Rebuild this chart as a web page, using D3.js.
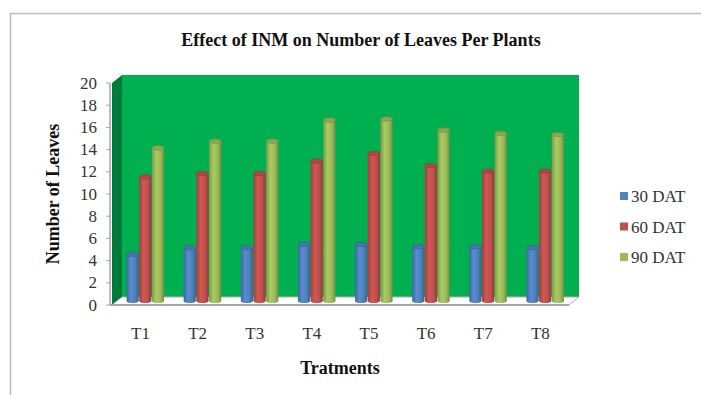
<!DOCTYPE html>
<html>
<head>
<meta charset="utf-8">
<script src="https://cdnjs.cloudflare.com/ajax/libs/d3/7.8.5/d3.min.js"></script>
<style>
  body { margin: 0; background: #fff; }
</style>
</head>
<body>
<div id="chart"></div>
<script>
// data
var treatments = ["T1", "T2", "T3", "T4", "T5", "T6", "T7", "T8"];
var seriesNames = ["30 DAT", "60 DAT", "90 DAT"];
var dat30 = [4.2, 4.8, 4.8, 5.1, 5.1, 4.9, 4.9, 4.8];
var dat60 = [11.2, 11.5, 11.5, 12.6, 13.3, 12.2, 11.7, 11.7];
var dat90 = [13.8, 14.4, 14.4, 16.3, 16.4, 15.4, 15.1, 15.0];
var yTicks = [0, 2, 4, 6, 8, 10, 12, 14, 16, 18, 20];
var colors = ["#4F81BD", "#C0504D", "#9BBB59"];

var series = [dat30, dat60, dat90];
var serif = "'Liberation Serif', 'Times New Roman', serif";

var svg = d3.select("#chart").append("svg")
    .attr("width", 701)
    .attr("height", 395)
    .attr("font-family", serif);

// chart frame (top + left border like the original)
svg.append("path")
    .attr("d", "M10.5,395 L10.5,13.5 L701,13.5")
    .attr("fill", "none")
    .attr("stroke", "#bdbdbd")
    .attr("stroke-width", 1.5);

var y = d3.scaleLinear().domain([0, 20]).range([305, 83]);
var x0 = d3.scaleBand().domain(treatments).range([112, 569]);
var x1 = d3.scaleBand().domain(seriesNames).range([0, 38]);
var depth = {x: 10, y: -8};

// gradients for cylinders
var defs = svg.append("defs");
colors.forEach(function(c, i) {
    var g = defs.append("linearGradient").attr("id", "cyl" + i)
        .attr("x1", "0%").attr("x2", "100%").attr("y1", "0%").attr("y2", "0%");
    var base = d3.color(c);
    g.append("stop").attr("offset", "0%").attr("stop-color", base.darker(0.6));
    g.append("stop").attr("offset", "35%").attr("stop-color", base.brighter(0.25));
    g.append("stop").attr("offset", "70%").attr("stop-color", base);
    g.append("stop").attr("offset", "100%").attr("stop-color", base.darker(0.8));
});

// back wall
svg.append("rect")
    .attr("x", 112 + depth.x)
    .attr("y", y(20) + depth.y)
    .attr("width", 569 - 112)
    .attr("height", y(0) - y(20))
    .attr("fill", "#00B050");

// left wall
svg.append("polygon")
    .attr("points", [
        [112, y(20)], [112 + depth.x, y(20) + depth.y],
        [112 + depth.x, y(0) + depth.y], [112, y(0)]
    ].map(function(p) { return p.join(","); }).join(" "))
    .attr("fill", "#007A3A");

// floor
svg.append("polygon")
    .attr("points", [
        [112, y(0)], [112 + depth.x, y(0) + depth.y],
        [569 + depth.x, y(0) + depth.y], [569, y(0)]
    ].map(function(p) { return p.join(","); }).join(" "))
    .attr("fill", "#ffffff")
    .attr("stroke", "#b0b0b0")
    .attr("stroke-width", 1);
svg.append("line")
    .attr("x1", 110).attr("x2", 569)
    .attr("y1", y(0)).attr("y2", y(0))
    .attr("stroke", "#a6a6a6").attr("stroke-width", 2);

// y axis line and ticks
svg.append("line")
    .attr("x1", 110).attr("x2", 110)
    .attr("y1", y(20)).attr("y2", y(0))
    .attr("stroke", "#a6a6a6").attr("stroke-width", 1.5);
svg.selectAll(".ytick").data(yTicks).enter().append("line")
    .attr("x1", 106).attr("x2", 110)
    .attr("y1", function(d) { return y(d); })
    .attr("y2", function(d) { return y(d); })
    .attr("stroke", "#a6a6a6");
svg.selectAll(".ylab").data(yTicks).enter().append("text")
    .attr("x", 97)
    .attr("y", function(d) { return y(d) + 5.5; })
    .attr("text-anchor", "end")
    .attr("font-size", 17)
    .attr("fill", "#333")
    .text(function(d) { return d; });

// bars (cylinders at half depth)
var half = {x: depth.x / 2, y: depth.y / 2};
var bw = x1.bandwidth() - 0.5;
treatments.forEach(function(t, ti) {
    var gx = x0(t) + (x0.bandwidth() - 38) / 2 + half.x;
    series.forEach(function(vals, si) {
        var bx = gx + x1(seriesNames[si]);
        var top = y(vals[ti]) + half.y;
        var bot = y(0) + half.y;
        svg.append("rect")
            .attr("x", bx).attr("y", top)
            .attr("width", bw).attr("height", bot - top)
            .attr("fill", "url(#cyl" + si + ")");
        svg.append("ellipse")
            .attr("cx", bx + bw / 2).attr("cy", bot)
            .attr("rx", bw / 2).attr("ry", 2)
            .attr("fill", "url(#cyl" + si + ")");
        svg.append("ellipse")
            .attr("cx", bx + bw / 2).attr("cy", top)
            .attr("rx", bw / 2).attr("ry", 2.2)
            .attr("fill", d3.color(colors[si]).darker(0.3))
            .attr("stroke", d3.color(colors[si]).darker(0.8))
            .attr("stroke-width", 0.6);
    });
});

// x tick labels
svg.selectAll(".xlab").data(treatments).enter().append("text")
    .attr("x", function(d) { return x0(d) + x0.bandwidth() / 2; })
    .attr("y", 339)
    .attr("text-anchor", "middle")
    .attr("font-size", 17)
    .attr("fill", "#333")
    .text(function(d) { return d; });

// titles
svg.append("text")
    .attr("x", 361).attr("y", 46)
    .attr("text-anchor", "middle")
    .attr("font-size", 18).attr("font-weight", "bold")
    .attr("fill", "#111")
    .text("Effect of INM on Number of Leaves Per Plants");
svg.append("text")
    .attr("transform", "translate(59,194) rotate(-90)")
    .attr("text-anchor", "middle")
    .attr("font-size", 18).attr("font-weight", "bold")
    .attr("fill", "#111")
    .text("Number of Leaves");
svg.append("text")
    .attr("x", 340).attr("y", 374)
    .attr("text-anchor", "middle")
    .attr("font-size", 18).attr("font-weight", "bold")
    .attr("fill", "#111")
    .text("Tratments");

// legend
var legend = svg.selectAll(".leg").data(seriesNames).enter().append("g")
    .attr("transform", function(d, i) { return "translate(620," + (192 + i * 30.5) + ")"; });
legend.append("rect")
    .attr("width", 8).attr("height", 8)
    .attr("fill", function(d, i) { return colors[i]; });
legend.append("text")
    .attr("x", 11).attr("y", 10)
    .attr("font-size", 17)
    .attr("fill", "#333")
    .text(function(d) { return d; });
</script>
</body>
</html>
